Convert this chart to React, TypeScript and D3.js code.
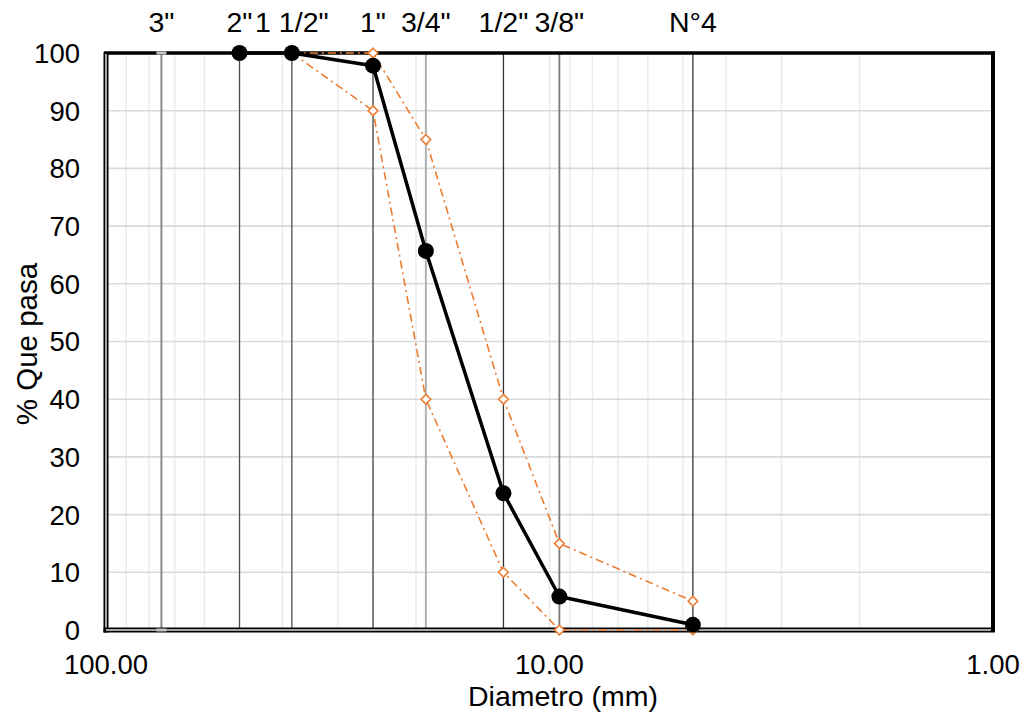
import React from "react";
import * as d3 from "d3";

// Sieve openings (mm) and their names, drawn as vertical reference lines
const sieveNames = ['3"', '2"', '1 1/2"', '1"', '3/4"', '1/2"', '3/8"', "N°4"];
const sieveSizes = [75, 50, 38.1, 25, 19, 12.7, 9.5, 4.75];

// Grading curve of the sample (% passing)
const sampleSizes = [50, 38.1, 25, 19, 12.7, 9.5, 4.75];
const samplePassing = [100, 100, 97.8, 65.7, 23.7, 5.8, 0.9];

// Specification band (upper and lower limits)
const limitSizes = [38.1, 25, 19, 12.7, 9.5, 4.75];
const upperLimit = [100, 100, 85, 40, 15, 5];
const lowerLimit = [100, 90, 40, 10, 0, 0];

// Axis ticks
const xTicks = [100, 10, 1];
const yTicks = [0, 10, 20, 30, 40, 50, 60, 70, 80, 90, 100];
const minorX = [90, 80, 70, 60, 50, 40, 30, 20, 10, 9, 8, 7, 6, 5, 4, 3, 2];

// Line styles for each sieve line, in the same order as sieveNames
const sieveStroke = ["#8c8c8c", "#4d4d4d", "#4d4d4d", "#404040", "#b0b0b0", "#333333", "#7a7a7a", "#333333"];
const sieveWidth = [2, 1.3, 1.3, 1.3, 2, 1.3, 1.8, 1.3];

const W = 1024;
const H = 718;
const left = 106;
const right = 993;
const top = 53;
const bottom = 630;
const FONT = "'Liberation Sans', Arial, sans-serif";
const ORANGE = "#ED7D31";

export default function App() {
  const x = d3.scaleLog().domain([100, 1]).range([left, right]);
  const y = d3.scaleLinear().domain([0, 100]).range([bottom, top]);

  const line = d3
    .line<[number, number]>()
    .x((d) => x(d[0]))
    .y((d) => y(d[1]));

  const sample = sampleSizes.map((s, i) => [s, samplePassing[i]] as [number, number]);
  const upper = limitSizes.map((s, i) => [s, upperLimit[i]] as [number, number]);
  const lower = limitSizes.map((s, i) => [s, lowerLimit[i]] as [number, number]);

  const diamond = (cx: number, cy: number, r: number) =>
    `M${cx},${cy - r}L${cx + r},${cy}L${cx},${cy + r}L${cx - r},${cy}Z`;

  return (
    <svg
      width={W}
      height={H}
      style={{ position: "absolute", left: 0, top: 0, background: "#fff" }}
      fontFamily={FONT}
    >
      {/* minor log gridlines */}
      {minorX.map((v) => (
        <line key={"mx" + v} x1={x(v)} x2={x(v)} y1={top} y2={bottom} stroke="#ebebeb" strokeWidth={1.5} />
      ))}
      {/* horizontal gridlines */}
      {yTicks
        .filter((v) => v > 0 && v < 100)
        .map((v) => (
          <line key={"gy" + v} x1={left} x2={right} y1={y(v)} y2={y(v)} stroke="#d9d9d9" strokeWidth={1.6} />
        ))}

      {/* sieve reference lines */}
      {sieveSizes.map((s, i) => (
        <line
          key={"sv" + i}
          x1={x(s)}
          x2={x(s)}
          y1={y(100)}
          y2={y(0)}
          stroke={sieveStroke[i]}
          strokeWidth={sieveWidth[i]}
        />
      ))}

      {/* plot frame */}
      <line x1={left - 2} x2={right + 2} y1={top} y2={top} stroke="#000" strokeWidth={3.5} />
      <line x1={right} x2={right} y1={top - 1.5} y2={bottom + 2} stroke="#000" strokeWidth={4} />
      <line x1={left} x2={left} y1={top - 1} y2={bottom + 2.5} stroke="#000" strokeWidth={5} />
      <line x1={left} x2={left} y1={top + 1} y2={bottom} stroke="#a6a6a6" strokeWidth={2} />
      <line x1={left - 2.5} x2={right + 2} y1={bottom} y2={bottom} stroke="#000" strokeWidth={5} />
      <line x1={left} x2={right - 2} y1={bottom} y2={bottom} stroke="#a6a6a6" strokeWidth={2} />

      {/* end markers of the 3" line */}
      {[100, 0].map((v) => (
        <rect key={"m3" + v} x={x(sieveSizes[0]) - 5} y={y(v) - 1.5} width={10} height={3} fill="#c4c4c4" />
      ))}

      {/* specification band */}
      {[upper, lower].map((pts, k) => (
        <g key={"lim" + k}>
          <path
            d={line(pts) || ""}
            fill="none"
            stroke={ORANGE}
            strokeWidth={1.6}
            strokeDasharray="8 4 2 4"
          />
          {pts.map((p, i) => (
            <path key={i} d={diamond(x(p[0]), y(p[1]), 4.8)} fill="#fff" stroke={ORANGE} strokeWidth={1.6} />
          ))}
        </g>
      ))}

      {/* sample grading curve */}
      <path d={line(sample) || ""} fill="none" stroke="#000" strokeWidth={3.5} strokeLinejoin="round" />
      {sample.map((p, i) => (
        <circle key={"c" + i} cx={x(p[0])} cy={y(p[1])} r={8} fill="#000" />
      ))}

      {/* y tick labels */}
      {yTicks.map((v) => (
        <text key={"yt" + v} x={80} y={y(v)} dy="0.36em" textAnchor="end" fontSize={27.5} fill="#000">
          {v}
        </text>
      ))}
      {/* x tick labels */}
      {xTicks.map((v) => (
        <text key={"xt" + v} x={x(v)} y={674} textAnchor="middle" fontSize={27.5} fill="#000">
          {d3.format(".2f")(v)}
        </text>
      ))}
      {/* sieve names */}
      {sieveSizes.map((s, i) => (
        <text key={"sn" + i} x={x(s)} y={32} textAnchor="middle" fontSize={28.5} fill="#000">
          {sieveNames[i]}
        </text>
      ))}

      {/* axis titles */}
      <text x={563} y={706} textAnchor="middle" fontSize={28.5} fill="#000">
        Diametro (mm)
      </text>
      <text
        transform={`translate(37,344) rotate(-90)`}
        textAnchor="middle"
        fontSize={29.5}
        fill="#000"
      >
        % Que pasa
      </text>
    </svg>
  );
}
